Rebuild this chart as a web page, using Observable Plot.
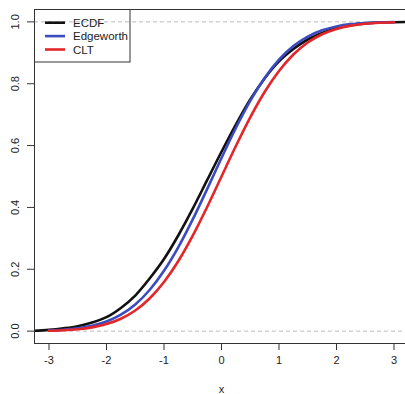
<!DOCTYPE html>
<html><head><meta charset="utf-8">
<script src="https://cdn.jsdelivr.net/npm/d3@7"></script>
<script src="https://cdn.jsdelivr.net/npm/@observablehq/plot@0.6"></script>
<style>body{margin:0;background:#fff} svg{display:block}</style>
</head><body><div id="chart"></div>
<script>
// Series names and colours
const seriesNames = ["ECDF", "Edgeworth", "CLT"];
const seriesColors = ["#111111", "#3a4cc0", "#e3262a"];

// CLT and Edgeworth curves
const gridX = [-3, -2.75, -2.5, -2.25, -2, -1.75, -1.5, -1.25, -1, -0.75, -0.5, -0.25, 0,
               0.25, 0.5, 0.75, 1, 1.25, 1.5, 1.75, 2, 2.25, 2.5, 2.75, 3];
const cltY = [0.0013, 0.003, 0.0062, 0.0122, 0.0228, 0.0401, 0.0668, 0.1056, 0.1587, 0.2266, 0.3085, 0.4013, 0.5,
              0.5987, 0.6915, 0.7734, 0.8413, 0.8944, 0.9332, 0.9599, 0.9772, 0.9878, 0.9938, 0.997, 0.9987];
const edgeworthY = [0.002, 0.0044, 0.0088, 0.017, 0.0309, 0.053, 0.0862, 0.133, 0.195, 0.2718, 0.3613, 0.4593, 0.5598,
                    0.6567, 0.7443, 0.8186, 0.8776, 0.9218, 0.9526, 0.9728, 0.9853, 0.9926, 0.9964, 0.9984, 0.9994];

// ECDF
const ecdfX = [-3.3, -3, -2.75, -2.5, -2.25, -2, -1.75, -1.5, -1.25, -1, -0.75, -0.5, -0.25, 0,
               0.25, 0.5, 0.75, 1, 1.25, 1.5, 1.75, 2, 2.25, 2.5, 2.75, 3, 3.3];
const ecdfY = [0.001, 0.004, 0.009, 0.016, 0.028, 0.045, 0.075, 0.115, 0.17, 0.233, 0.31, 0.396, 0.488, 0.58,
               0.668, 0.749, 0.817, 0.872, 0.912, 0.943, 0.964, 0.979, 0.989, 0.995, 0.998, 0.999, 1.0];

// Axis ticks and reference lines
const xTicks = [-3, -2, -1, 0, 1, 2, 3];
const yTicks = [0, 0.2, 0.4, 0.6, 0.8, 1.0];
const refLines = [0, 1];

const rows = [
  ...ecdfX.map((x, i) => ({series: "ECDF", x, y: ecdfY[i]})),
  ...gridX.map((x, i) => ({series: "Edgeworth", x, y: edgeworthY[i]})),
  ...gridX.map((x, i) => ({series: "CLT", x, y: cltY[i]}))
];

const plot = Plot.plot({
  width: 405, height: 394,
  marginLeft: 34, marginRight: 0, marginTop: 9, marginBottom: 51,
  style: {fontFamily: "'Liberation Sans', Arial, sans-serif", fontSize: "11px", background: "#fff", color: "#222"},
  x: {domain: [-3.252, 3.2]},
  y: {domain: [-0.04, 1.04]},
  color: {domain: seriesNames, range: seriesColors},
  marks: [
    Plot.ruleY(refLines, {stroke: "#bbbbbb", strokeDasharray: "4,3", strokeWidth: 1}),
    Plot.line(rows, {x: "x", y: "y", z: "series", stroke: "series", strokeWidth: 2.6, curve: "monotone-x", clip: true}),
    Plot.frame({anchor: "left", stroke: "#333"}),
    Plot.frame({anchor: "top", stroke: "#333"}),
    Plot.frame({anchor: "bottom", stroke: "#333"}),
    Plot.axisX({ticks: xTicks, tickSize: 7, tickPadding: 6, label: null, stroke: "#333", tickFormat: d => String(d)}),
    Plot.axisY({ticks: yTicks, tickSize: 7, label: null, stroke: "#333", tickFormat: () => ""}),
    Plot.text(yTicks, {y: d => d, text: d => d.toFixed(1), frameAnchor: "left", dx: -19, rotate: -90,
                       textAnchor: "middle", lineAnchor: "middle", fill: "#222"}),
    Plot.text(["x"], {text: d => d, frameAnchor: "bottom", dx: 1.5, dy: 46, lineAnchor: "middle", fill: "#222"})
  ]
});
document.getElementById("chart").appendChild(plot);

// Legend box (top-left, R style)
const svg = d3.select(plot);
const lg = svg.append("g").attr("font-family", "'Liberation Sans', Arial, sans-serif")
  .attr("font-size", 11.5).attr("text-anchor", "start");
lg.append("rect").attr("x", 34.5).attr("y", 9.5).attr("width", 95.5).attr("height", 52.5)
  .attr("fill", "none").attr("stroke", "#333");
seriesNames.forEach((name, i) => {
  const cy = 22.7 + i * 13.4;
  lg.append("line").attr("x1", 45).attr("x2", 65).attr("y1", cy).attr("y2", cy)
    .attr("stroke", seriesColors[i]).attr("stroke-width", 2.6);
  lg.append("text").attr("x", 73).attr("y", cy).attr("dy", "0.35em").attr("fill", "#222")
    .attr("text-anchor", "start").text(name);
});
</script>
</body></html>
